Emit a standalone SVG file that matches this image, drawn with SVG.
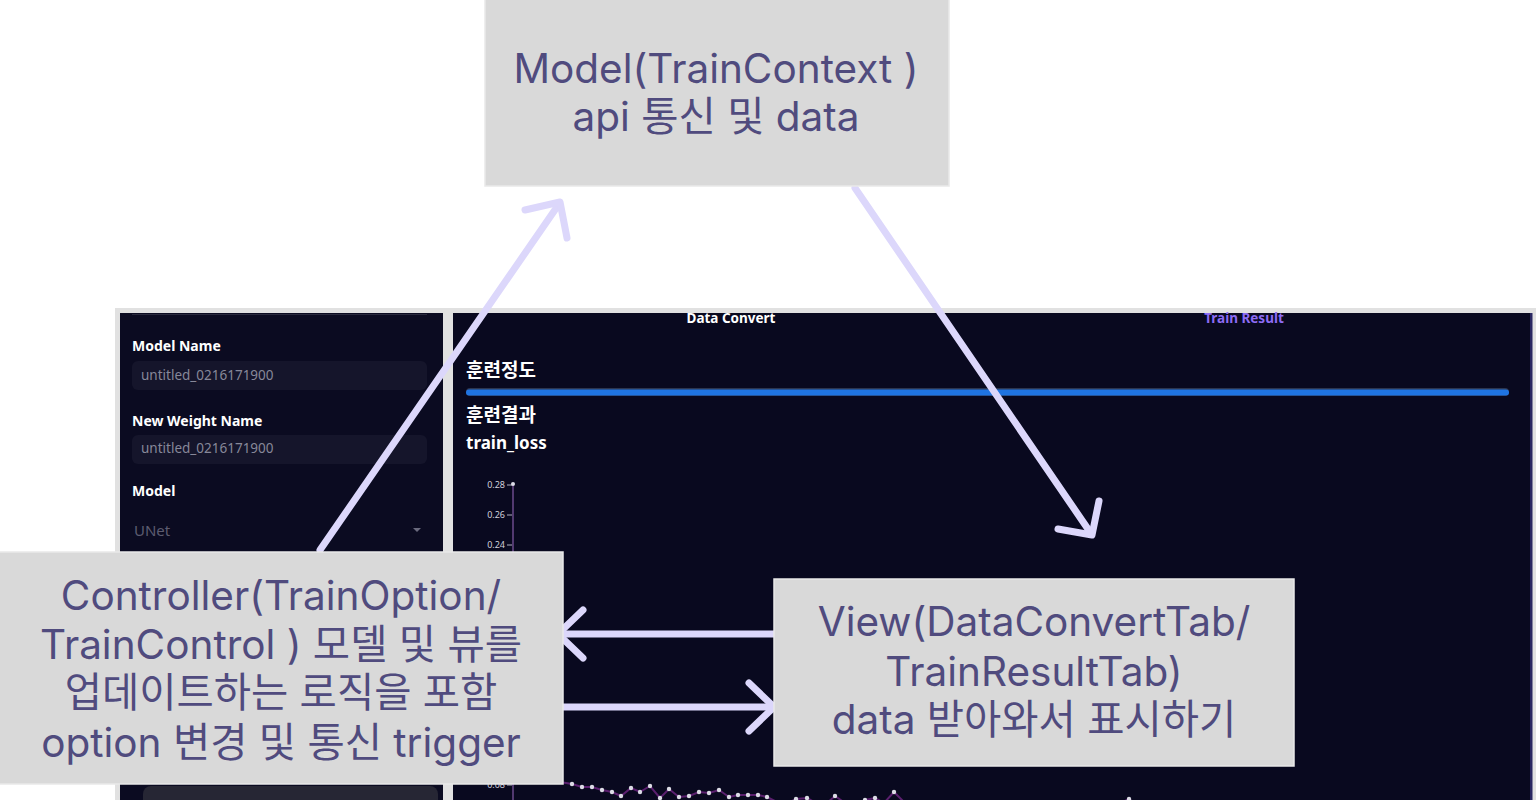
<svg xmlns="http://www.w3.org/2000/svg" width="1536" height="800" viewBox="0 0 1536 800">
  <style>
    .box { fill: #d9d9d9; stroke: #e9e9e9; stroke-width: 1.5; }
    .label { font-family: "Inter", "Noto Sans CJK KR", sans-serif; font-size: 40.5px; fill: #504b7e; text-anchor: middle; }
    .arrow { fill: none; stroke: #dcd7fb; stroke-width: 7; stroke-linecap: round; stroke-linejoin: round; }
    .ui { font-family: "Noto Sans", "Noto Sans CJK KR", sans-serif; }
    .ui-bold { font-family: "Noto Sans", "Noto Sans CJK KR", sans-serif; font-weight: bold; fill: #ffffff; }
    .field { fill: #15152b; }
    .field-text { font-family: "Noto Sans", sans-serif; font-size: 13.5px; fill: #878899; }
    .tick { font-family: "Noto Sans", sans-serif; font-size: 9px; fill: #d0d0dc; text-anchor: end; }
  </style>

  <rect width="1536" height="800" fill="#ffffff"/>

  <!-- Training app screenshot -->
  <g id="app-screen">
    <rect x="115" y="308" width="1421" height="492" fill="#e1e1e1"/>

    <!-- left option panel -->
    <g id="option-panel">
      <rect x="120" y="313" width="323" height="487" fill="#0b0b21"/>
      <line x1="132" y1="314.5" x2="427" y2="314.5" stroke="#2a2a3e" stroke-width="1"/>
      <text class="ui-bold" x="132" y="351" font-size="14">Model Name</text>
      <rect class="field" x="132" y="361" width="295" height="29" rx="6"/>
      <text class="field-text" x="141" y="380">untitled_0216171900</text>
      <text class="ui-bold" x="132" y="426" font-size="14">New Weight Name</text>
      <rect class="field" x="132" y="435" width="295" height="29" rx="6"/>
      <text class="field-text" x="141" y="453">untitled_0216171900</text>
      <text class="ui-bold" x="132" y="496" font-size="14">Model</text>
      <text class="ui" x="134" y="536" font-size="15" fill="#5c5c70">UNet</text>
      <path d="M413 528 L421 528 L417 532 Z" fill="#6a6a7e"/>
      <rect x="143" y="786" width="295" height="30" rx="8" fill="#262634"/>
    </g>

    <!-- right result panel -->
    <g id="result-panel">
      <rect x="453" y="313" width="1077" height="487" fill="#09091f"/>
      <rect x="1530" y="313" width="2.5" height="487" fill="#2a2862"/>
      <text class="ui-bold" x="731" y="323" font-size="13.5" text-anchor="middle">Data Convert</text>
      <text class="ui" x="1244" y="323" font-size="13.5" font-weight="bold" fill="#8d6cf4" text-anchor="middle">Train Result</text>
      <text class="ui-bold" x="466" y="377" font-size="19">훈련정도</text>
      <rect x="466" y="388" width="1043" height="8" rx="4" fill="#2b3550"/>
      <rect x="466" y="389.5" width="1043" height="6" rx="3" fill="#1f74e2"/>
      <text class="ui-bold" x="466" y="422" font-size="19">훈련결과</text>
      <text class="ui-bold" x="466" y="449" font-size="17">train_loss</text>

      <!-- loss chart axis -->
      <line x1="513" y1="483" x2="513" y2="800" stroke="#6b4a8c" stroke-width="1.5"/>
      <g stroke="#b0b0c0" stroke-width="1">
        <line x1="507" y1="485" x2="512" y2="485"/>
        <line x1="507" y1="515" x2="512" y2="515"/>
        <line x1="507" y1="545" x2="512" y2="545"/>
        <line x1="507" y1="785" x2="512" y2="785"/>
      </g>
      <circle cx="513" cy="484" r="2" fill="#dddde8"/>
      <text class="tick" x="505" y="488">0.28</text>
      <text class="tick" x="505" y="518">0.26</text>
      <text class="tick" x="505" y="548">0.24</text>
      <text class="tick" x="505" y="788">0.08</text>

      <!-- loss curve -->
      <polyline fill="none" stroke="#5a1f6e" stroke-width="2"
        points="560,782 572,784 582,787 592,787 602,790 612,792 621,796 631,788 640,792 650,786 660,798 669,789 679,797 689,796 699,792 709,793 719,790 729,797 738,795 748,795 758,795 767,797 777,802 786,804 796,799 807,798 816,803 826,804 835,796 845,803 855,805 865,800 875,798 884,803 894,792 904,802 914,806 924,808 934,805 944,809 960,810 980,808 1000,811 1040,812 1080,811 1110,808 1129,799 1140,808"/>
      <g fill="#dcdce6">
        <circle cx="572" cy="784" r="2.2"/><circle cx="582" cy="787" r="2.2"/><circle cx="592" cy="787" r="2.2"/>
        <circle cx="602" cy="790" r="2.2"/><circle cx="612" cy="792" r="2.2"/><circle cx="621" cy="796" r="2.2"/>
        <circle cx="631" cy="788" r="2.2"/><circle cx="640" cy="792" r="2.2"/><circle cx="650" cy="786" r="2.2"/>
        <circle cx="660" cy="798" r="2.2"/><circle cx="669" cy="789" r="2.2"/><circle cx="679" cy="797" r="2.2"/>
        <circle cx="689" cy="796" r="2.2"/><circle cx="699" cy="792" r="2.2"/><circle cx="709" cy="793" r="2.2"/>
        <circle cx="719" cy="790" r="2.2"/><circle cx="729" cy="797" r="2.2"/><circle cx="738" cy="795" r="2.2"/>
        <circle cx="748" cy="795" r="2.2"/><circle cx="758" cy="795" r="2.2"/><circle cx="767" cy="797" r="2.2"/>
        <circle cx="796" cy="799" r="2.2"/><circle cx="807" cy="798" r="2.2"/><circle cx="835" cy="796" r="2.2"/>
        <circle cx="865" cy="800" r="2.2"/><circle cx="875" cy="798" r="2.2"/><circle cx="894" cy="792" r="2.2"/>
        <circle cx="1129" cy="799" r="2.2"/>
      </g>
    </g>
  </g>

  <!-- connectors -->
  <g id="connectors">
    <!-- controller -> model -->
    <path class="arrow" d="M320 550 L559 204"/>
    <path class="arrow" d="M525 210 L560 202 L567 238"/>
    <!-- model -> view -->
    <path class="arrow" d="M855 188 L1090 532"/>
    <path class="arrow" d="M1058 529 L1092 535 L1099 501"/>
    <!-- view -> controller -->
    <path class="arrow" d="M774 634 L560 634"/>
    <path class="arrow" d="M583 610 L558 634 L583 658"/>
    <!-- controller -> view -->
    <path class="arrow" d="M563 707 L773 707"/>
    <path class="arrow" d="M749 683 L774 707 L749 731"/>
  </g>

  <!-- Model node -->
  <g id="node-model">
    <rect class="box" x="485" y="-2" width="464" height="188"/>
    <text class="label" x="716" y="83">Model(TrainContext )</text>
    <text class="label" x="716" y="131">api 통신 및 data</text>
  </g>

  <!-- Controller node -->
  <g id="node-controller">
    <rect class="box" x="-2" y="552" width="565" height="232"/>
    <text class="label" x="281" y="610">Controller(TrainOption/</text>
    <text class="label" x="281" y="659">TrainControl ) 모델 및 뷰를</text>
    <text class="label" x="281" y="707">업데이트하는 로직을 포함</text>
    <text class="label" x="281" y="757">option 변경 및 통신 trigger</text>
  </g>

  <!-- View node -->
  <g id="node-view">
    <rect class="box" x="774" y="579" width="520" height="187"/>
    <text class="label" x="1034" y="636">View(DataConvertTab/</text>
    <text class="label" x="1034" y="686">TrainResultTab)</text>
    <text class="label" x="1034" y="734">data 받아와서 표시하기</text>
  </g>
</svg>
